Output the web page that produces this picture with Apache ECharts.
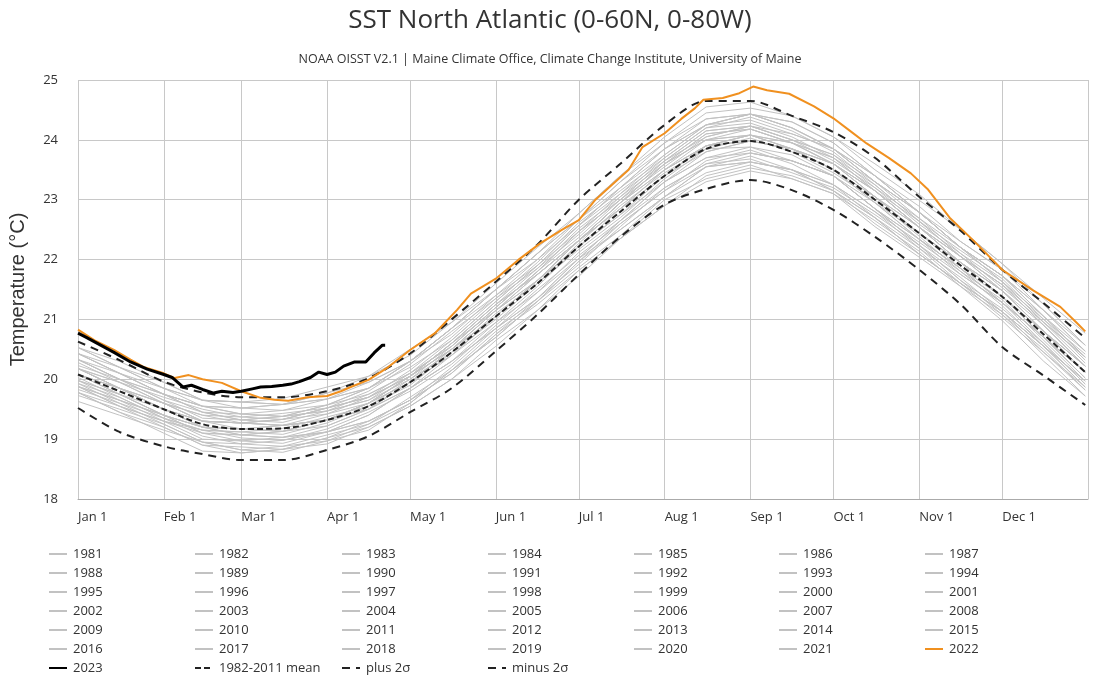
<!DOCTYPE html>
<html>
<head>
<meta charset="utf-8">
<script src="https://cdn.jsdelivr.net/npm/echarts@6/dist/echarts.min.js"></script>
<style>html,body{margin:0;padding:0;background:#fff;}#chart{width:1100px;height:700px;}</style>
</head>
<body>
<div id="chart"></div>
<script>
// Day-of-year sample points for the climatology and past years
const days = [1,16,32,46,60,75,91,106,121,136,152,167,182,197,213,228,244,259,274,289,305,320,335,350,365];

// Month tick positions and labels
const monthDays = [1,32,60,91,121,152,182,213,244,274,305,335];
const monthLabels = ['Jan 1','Feb 1','Mar 1','Apr 1','May 1','Jun 1','Jul 1','Aug 1','Sep 1','Oct 1','Nov 1','Dec 1'];
const yTicks = [18,19,20,21,22,23,24,25];

// 1982-2011 mean and ±2σ
const meanVals  = [20.08,19.80,19.50,19.25,19.17,19.18,19.32,19.55,19.95,20.45,21.05,21.60,22.22,22.80,23.40,23.85,23.98,23.80,23.50,23.00,22.44,21.90,21.38,20.75,20.12];
const plusVals  = [20.63,20.32,19.96,19.78,19.70,19.70,19.80,20.02,20.43,21.00,21.63,22.25,23.00,23.60,24.25,24.65,24.65,24.40,24.13,23.70,23.05,22.48,21.83,21.27,20.69];
const minusVals = [19.52,19.12,18.88,18.75,18.65,18.65,18.82,19.05,19.45,19.85,20.47,21.08,21.75,22.38,22.92,23.18,23.33,23.16,22.83,22.38,21.83,21.25,20.54,20.06,19.57];

// Individual years 1981-2021 (grey)
const y1981 = [null,null,null,null,null,null,null,null,null,null,null,null,null,null,null,null,23.78,23.65,23.40,22.85,22.34,21.85,21.28,20.70,20.12];
const y1982 = [20.03,19.70,19.35,19.15,19.02,18.98,19.12,19.30,19.65,20.10,20.75,21.25,21.82,22.35,23.00,23.35,23.53,23.40,23.15,22.70,22.09,21.60,21.13,20.45,19.82];
const y1983 = [19.78,19.55,19.30,19.15,19.12,19.18,19.37,19.55,19.90,20.45,21.10,21.60,22.17,22.70,23.35,23.85,23.88,23.65,23.40,22.85,22.24,21.65,21.18,20.60,19.92];
const y1984 = [19.88,19.55,19.20,18.90,18.77,18.83,19.02,19.30,19.65,20.10,20.75,21.35,22.02,22.50,23.05,23.55,23.73,23.50,23.15,22.60,22.09,21.60,21.03,20.45,19.87];
const y1985 = [19.78,19.45,19.20,18.90,18.87,18.83,18.92,19.20,19.55,20.00,20.65,21.15,21.72,22.35,22.90,23.40,23.58,23.35,23.10,22.65,22.14,21.55,21.08,20.40,19.72];
const y1986 = [19.63,19.40,19.15,18.95,18.92,18.88,19.07,19.25,19.60,20.15,20.80,21.30,21.87,22.40,23.05,23.55,23.63,23.50,23.25,22.80,22.19,21.70,21.13,20.55,19.97];
const y1987 = [19.93,19.70,19.35,19.15,19.12,19.08,19.27,19.55,20.00,20.45,21.00,21.60,22.27,22.90,23.45,23.85,24.03,23.80,23.45,23.00,22.39,21.80,21.33,20.65,19.97];
const y1988 = [19.88,19.55,19.30,19.10,19.07,19.03,19.12,19.40,19.85,20.30,20.85,21.35,22.02,22.65,23.30,23.70,23.88,23.75,23.40,22.85,22.34,21.85,21.28,20.70,20.02];
const y1989 = [19.93,19.60,19.25,18.95,18.82,18.88,18.97,19.15,19.60,20.15,20.70,21.30,21.97,22.50,23.05,23.45,23.63,23.50,23.15,22.70,22.19,21.60,21.13,20.55,19.87];
const y1990 = [19.88,19.65,19.40,19.20,19.07,19.03,19.22,19.50,19.95,20.40,20.95,21.45,22.02,22.65,23.30,23.70,23.78,23.65,23.40,22.95,22.34,21.75,21.28,20.70,20.02];
const y1991 = [19.98,19.65,19.30,19.00,18.97,19.03,19.12,19.30,19.65,20.20,20.85,21.35,21.92,22.55,23.20,23.60,23.68,23.45,23.20,22.75,22.24,21.65,21.08,20.50,19.82];
const y1992 = [19.78,19.45,19.10,18.80,18.77,18.83,19.02,19.20,19.55,20.00,20.55,21.15,21.82,22.35,22.90,23.30,23.48,23.35,23.10,22.55,22.04,21.55,20.98,20.30,19.72];
const y1993 = [19.73,19.50,19.25,18.95,18.82,18.78,18.97,19.25,19.70,20.15,20.70,21.30,21.97,22.60,23.15,23.55,23.63,23.50,23.25,22.70,22.09,21.60,21.13,20.55,19.87];
const y1994 = [19.83,19.60,19.35,19.05,18.92,18.98,19.17,19.45,19.80,20.25,20.90,21.50,22.07,22.60,23.15,23.65,23.83,23.60,23.25,22.80,22.29,21.80,21.23,20.55,19.97];
const y1995 = [19.98,19.75,19.40,19.10,19.07,19.13,19.32,19.50,19.85,20.40,21.05,21.65,22.32,22.95,23.50,23.90,24.08,23.85,23.50,22.95,22.44,21.95,21.38,20.70,20.12];
const y1996 = [20.08,19.75,19.40,19.10,18.97,18.93,19.12,19.40,19.85,20.30,20.85,21.45,22.12,22.65,23.20,23.60,23.78,23.65,23.40,22.85,22.24,21.75,21.28,20.60,19.92];
const y1997 = [19.88,19.65,19.40,19.20,19.17,19.13,19.22,19.50,19.95,20.50,21.15,21.65,22.22,22.75,23.40,23.90,24.08,23.95,23.60,23.05,22.44,21.95,21.48,20.80,20.12];
const y1998 = [20.08,19.85,19.60,19.40,19.37,19.43,19.52,19.70,20.15,20.70,21.35,21.85,22.42,23.05,23.70,24.20,24.28,24.05,23.70,23.15,22.54,22.05,21.48,20.80,20.22];
const y1999 = [20.18,19.85,19.50,19.20,19.07,19.13,19.32,19.60,19.95,20.40,21.05,21.65,22.32,22.85,23.40,23.80,23.98,23.85,23.50,22.95,22.34,21.85,21.38,20.80,20.12];
const y2000 = [20.08,19.75,19.40,19.20,19.17,19.23,19.32,19.50,19.85,20.30,20.95,21.55,22.22,22.75,23.30,23.80,23.98,23.85,23.50,23.05,22.44,21.85,21.28,20.70,20.02];
const y2001 = [19.98,19.75,19.50,19.30,19.27,19.23,19.32,19.60,20.05,20.60,21.15,21.65,22.22,22.85,23.50,23.90,23.98,23.85,23.60,23.15,22.54,21.95,21.38,20.80,20.22];
const y2002 = [20.18,19.85,19.50,19.30,19.17,19.13,19.32,19.60,19.95,20.50,21.15,21.75,22.32,22.85,23.40,23.90,24.08,23.85,23.50,23.05,22.54,21.95,21.38,20.70,20.12];
const y2003 = [20.08,19.85,19.60,19.30,19.27,19.33,19.52,19.70,20.05,20.60,21.25,21.85,22.52,23.05,23.60,24.10,24.18,23.95,23.70,23.25,22.64,22.05,21.58,20.90,20.22];
const y2004 = [20.18,19.95,19.60,19.30,19.27,19.23,19.32,19.60,20.05,20.60,21.25,21.75,22.32,22.95,23.60,24.00,24.08,23.95,23.60,23.05,22.54,22.05,21.48,20.80,20.22];
const y2005 = [20.18,19.95,19.70,19.50,19.37,19.33,19.52,19.80,20.25,20.80,21.35,21.95,22.62,23.15,23.70,24.20,24.38,24.15,23.80,23.25,22.64,22.15,21.68,21.00,20.32];
const y2006 = [20.33,20.00,19.65,19.35,19.32,19.38,19.47,19.65,20.10,20.65,21.30,21.90,22.47,23.00,23.65,24.15,24.23,24.00,23.75,23.20,22.59,22.10,21.63,20.95,20.27];
const y2007 = [20.18,19.85,19.60,19.40,19.27,19.23,19.42,19.70,20.05,20.50,21.05,21.65,22.32,22.95,23.60,24.00,24.08,23.85,23.60,23.15,22.54,21.95,21.48,20.80,20.12];
const y2008 = [20.08,19.85,19.50,19.30,19.27,19.33,19.52,19.70,20.05,20.50,21.15,21.75,22.32,22.85,23.50,24.00,24.18,23.95,23.60,23.05,22.44,21.95,21.48,20.90,20.22];
const y2009 = [20.18,19.85,19.50,19.20,19.17,19.23,19.32,19.60,20.05,20.50,21.05,21.65,22.32,22.95,23.50,23.90,23.98,23.85,23.60,23.15,22.64,22.05,21.58,21.00,20.42];
const y2010 = [20.43,20.10,19.85,19.65,19.62,19.58,19.67,19.85,20.30,20.85,21.50,22.10,22.67,23.20,23.85,24.35,24.43,24.20,23.85,23.30,22.79,22.20,21.63,21.05,20.37];
const y2011 = [20.28,19.95,19.60,19.30,19.27,19.33,19.42,19.60,20.05,20.60,21.25,21.75,22.32,22.95,23.60,24.10,24.18,23.95,23.70,23.15,22.54,22.05,21.58,20.90,20.22];
const y2012 = [20.23,20.00,19.75,19.55,19.42,19.38,19.57,19.85,20.30,20.85,21.40,21.90,22.57,23.20,23.85,24.25,24.33,24.10,23.85,23.30,22.69,22.20,21.73,21.05,20.37];
const y2013 = [20.33,20.00,19.65,19.45,19.42,19.48,19.57,19.75,20.10,20.55,21.20,21.80,22.47,23.00,23.55,24.05,24.23,24.00,23.65,23.20,22.69,22.10,21.53,20.95,20.37];
const y2014 = [20.33,20.10,19.75,19.45,19.32,19.38,19.57,19.85,20.20,20.65,21.30,21.90,22.57,23.20,23.75,24.25,24.43,24.20,23.85,23.40,22.79,22.20,21.73,21.15,20.47];
const y2015 = [20.43,20.10,19.75,19.45,19.32,19.28,19.47,19.75,20.10,20.55,21.20,21.80,22.47,23.10,23.65,24.05,24.23,24.10,23.85,23.40,22.89,22.30,21.83,21.25,20.57];
const y2016 = [20.53,20.20,19.95,19.65,19.52,19.48,19.67,19.95,20.30,20.75,21.40,22.00,22.67,23.30,23.85,24.25,24.43,24.20,23.85,23.30,22.79,22.20,21.73,21.05,20.47];
const y2017 = [20.43,20.10,19.75,19.55,19.52,19.58,19.77,19.95,20.30,20.85,21.50,22.00,22.57,23.10,23.75,24.25,24.43,24.30,23.95,23.40,22.79,22.20,21.63,20.95,20.37];
const y2018 = [20.33,20.00,19.75,19.55,19.42,19.38,19.47,19.65,20.00,20.55,21.20,21.80,22.37,23.00,23.65,24.15,24.23,24.00,23.75,23.30,22.79,22.20,21.73,21.15,20.47];
const y2019 = [20.43,20.20,19.85,19.55,19.52,19.58,19.67,19.85,20.30,20.85,21.50,22.10,22.67,23.30,23.95,24.35,24.43,24.30,23.95,23.40,22.79,22.30,21.83,21.15,20.57];
const y2020 = [20.53,20.30,19.95,19.65,19.62,19.68,19.87,20.05,20.40,20.95,21.60,22.20,22.77,23.40,24.05,24.55,24.63,24.40,24.05,23.50,22.99,22.50,21.93,21.25,20.57];
const y2021 = [20.53,20.20,19.85,19.65,19.62,19.58,19.77,20.05,20.50,20.95,21.50,22.10,22.77,23.40,23.95,24.45,24.53,24.40,24.05,23.60,23.09,22.50,21.93,21.35,20.77];

// 2022 (orange)
const days2022 = [1,7,14,20,25,32,36,41,46,53,60,67,72,77,84,91,96,100,106,113,121,130,138,143,152,160,168,176,182,188,194,200,205,213,219,224,227,234,240,245,250,254,258,267,274,280,286,294,302,308,316,325,335,346,356,362,365];
const vals2022 = [20.83,20.65,20.49,20.33,20.20,20.10,20.02,20.07,20.00,19.94,19.80,19.69,19.66,19.64,19.70,19.72,19.80,19.88,19.99,20.20,20.49,20.77,21.16,21.43,21.68,21.99,22.27,22.50,22.66,23.00,23.25,23.50,23.88,24.11,24.35,24.53,24.67,24.70,24.78,24.89,24.83,24.80,24.77,24.56,24.36,24.15,23.94,23.70,23.44,23.18,22.70,22.30,21.83,21.49,21.21,20.94,20.80];

// 2023 (black)
const days2023 = [1,4,8,14,20,26,32,35,39,42,46,50,53,57,60,64,67,71,75,78,81,85,88,91,94,97,101,105,108,111,112];
const vals2023 = [20.77,20.70,20.60,20.45,20.29,20.17,20.08,20.03,19.87,19.90,19.83,19.77,19.80,19.78,19.80,19.84,19.87,19.88,19.90,19.92,19.96,20.03,20.12,20.08,20.12,20.22,20.29,20.29,20.44,20.57,20.57];

const greyYears = [
  ['1981',y1981],['1982',y1982],['1983',y1983],['1984',y1984],['1985',y1985],['1986',y1986],['1987',y1987],
  ['1988',y1988],['1989',y1989],['1990',y1990],['1991',y1991],['1992',y1992],['1993',y1993],['1994',y1994],
  ['1995',y1995],['1996',y1996],['1997',y1997],['1998',y1998],['1999',y1999],['2000',y2000],['2001',y2001],
  ['2002',y2002],['2003',y2003],['2004',y2004],['2005',y2005],['2006',y2006],['2007',y2007],['2008',y2008],
  ['2009',y2009],['2010',y2010],['2011',y2011],['2012',y2012],['2013',y2013],['2014',y2014],['2015',y2015],
  ['2016',y2016],['2017',y2017],['2018',y2018],['2019',y2019],['2020',y2020],['2021',y2021]
];

function pairs(xs, ys) { return xs.map((x, i) => [x, ys[i]]); }

const series = [];
greyYears.forEach(([name, vals]) => {
  series.push({
    name: name, type: 'line', data: pairs(days, vals), symbol: 'none', silent: true,
    lineStyle: { color: '#c2c2c2', width: 1 }, itemStyle: { color: '#c2c2c2' }, z: 2
  });
});
series.push({ name: '1982-2011 mean', type: 'line', data: pairs(days, meanVals), symbol: 'none', smooth: 0.3,
  lineStyle: { color: '#222', width: 2, type: [6, 3] }, itemStyle: { color: '#222' }, z: 3 });
series.push({ name: 'plus 2σ', type: 'line', data: pairs(days, plusVals), symbol: 'none', smooth: 0.3,
  lineStyle: { color: '#222', width: 2, type: [8, 6] }, itemStyle: { color: '#222' }, z: 3 });
series.push({ name: 'minus 2σ', type: 'line', data: pairs(days, minusVals), symbol: 'none', smooth: 0.3,
  lineStyle: { color: '#222', width: 2, type: [8, 6] }, itemStyle: { color: '#222' }, z: 3 });
series.push({ name: '2022', type: 'line', data: pairs(days2022, vals2022), symbol: 'none',
  lineStyle: { color: '#f0901f', width: 2 }, itemStyle: { color: '#f0901f' }, z: 4 });
series.push({ name: '2023', type: 'line', data: pairs(days2023, vals2023), symbol: 'none',
  lineStyle: { color: '#000', width: 3 }, itemStyle: { color: '#000' }, z: 5 });

// Legend laid out as a 7-column grid
const legendNames = greyYears.map(g => g[0]).concat(['2022']);
const allNames = legendNames.concat(['2023', '1982-2011 mean', 'plus 2σ', 'minus 2σ']);
const colLeft = [48, 194, 341, 487, 633, 778, 924];
const legends = colLeft.map((lx, c) => ({
  orient: 'vertical', left: lx, top: 547, padding: 0,
  data: allNames.filter((n, i) => i % 7 === c),
  itemWidth: 18, itemHeight: 14, itemGap: 5,
  itemStyle: { opacity: 0 },
  textStyle: { fontSize: 13, color: '#333', fontFamily: 'Open Sans', lineHeight: 14, padding: [0, 0, 0, 1] }
}));

const chart = echarts.init(document.getElementById('chart'), null, { renderer: 'canvas' });
chart.setOption({
  animation: false,
  backgroundColor: '#fff',
  textStyle: { fontFamily: 'Open Sans' },
  title: [
    { text: 'SST North Atlantic (0-60N, 0-80W)', left: 'center', top: 3,
      textStyle: { fontSize: 26, fontWeight: 'normal', color: '#333', fontFamily: 'Open Sans' } },
    { text: 'NOAA OISST V2.1 | Maine Climate Office, Climate Change Institute, University of Maine', left: 'center', top: 48,
      textStyle: { fontSize: 12.5, fontWeight: 'normal', color: '#333', fontFamily: 'Open Sans' } }
  ],
  legend: legends,
  grid: { left: 75, right: 12, top: 80, bottom: 201, containLabel: false },
  xAxis: {
    type: 'value', min: 1, max: 366,
    axisLine: { show: true, lineStyle: { color: '#aaa' } },
    axisTick: { show: false, customValues: monthDays.concat([366]) },
    splitLine: { show: true, lineStyle: { color: '#c8c8c8', width: 1 } },
    axisLabel: {
      customValues: monthDays, align: 'left', margin: 12,
      color: '#333', fontSize: 13, fontFamily: 'Open Sans',
      formatter: v => monthLabels[monthDays.indexOf(v)] || ''
    }
  },
  yAxis: {
    type: 'value', min: yTicks[0], max: yTicks[yTicks.length - 1], interval: 1,
    name: 'Temperature (°C)', nameLocation: 'middle', nameGap: 50, nameRotate: 90,
    nameTextStyle: { fontSize: 20, color: '#333', fontFamily: 'Liberation Sans' },
    axisLine: { show: false }, axisTick: { show: false },
    splitLine: { show: true, lineStyle: { color: '#c8c8c8', width: 1 } },
    axisLabel: { color: '#333', fontSize: 13, margin: 20, fontFamily: 'Open Sans' }
  },
  series: series
});
</script>
</body>
</html>
